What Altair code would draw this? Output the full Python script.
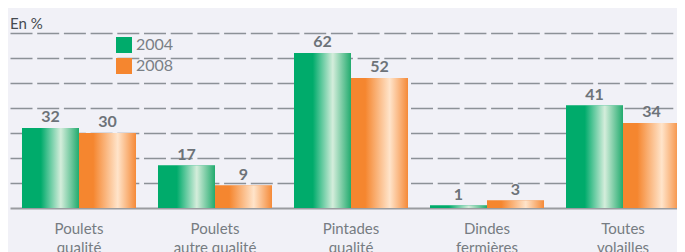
import altair as alt
import pandas as pd

categories = ["Poulets qualité", "Poulets autre qualité", "Pintades qualité",
              "Dindes fermières", "Toutes volailles"]
years = ["2004", "2008"]
values_2004 = [32, 17, 62, 1, 41]
values_2008 = [30, 9, 52, 3, 34]

rows = []
for c, a, b in zip(categories, values_2004, values_2008):
    rows.append({"cat": c, "year": "2004", "value": a})
    rows.append({"cat": c, "year": "2008", "value": b})
df = pd.DataFrame(rows)

GREEN = "#00ab6b"
ORANGE = "#f5862f"
grad_green = alt.Gradient(
    gradient="linear", x1=0, x2=1, y1=0, y2=0,
    stops=[alt.GradientStop(color=GREEN, offset=0),
           alt.GradientStop(color=GREEN, offset=0.33),
           alt.GradientStop(color="#d4eddb", offset=0.68),
           alt.GradientStop(color="#22ab6e", offset=1)])
grad_orange = alt.Gradient(
    gradient="linear", x1=0, x2=1, y1=0, y2=0,
    stops=[alt.GradientStop(color=ORANGE, offset=0),
           alt.GradientStop(color=ORANGE, offset=0.25),
           alt.GradientStop(color="#ffe4ca", offset=0.68),
           alt.GradientStop(color="#f58a38", offset=1)])

x_enc = alt.X("cat:N", sort=categories,
              scale=alt.Scale(range=[0, 682], paddingInner=0.1618, paddingOuter=0.0882),
              axis=alt.Axis(title=None, labelAngle=0, ticks=False,
                            domain=True, domainColor="#9a9ca0", domainWidth=2,
                            labelFont="Lato", labelFontSize=15, labelColor="#767c82",
                            labelPadding=13, labelLineHeight=19, labelBaseline="top",
                            labelExpr="[slice(datum.label, 0, indexof(datum.label, ' ')), slice(datum.label, indexof(datum.label, ' ') + 1)]"))
xo_enc = alt.XOffset("year:N", scale=alt.Scale(domain=years, paddingInner=0, paddingOuter=0))
y_enc = alt.Y("value:Q", scale=alt.Scale(domain=[0, 70], nice=False),
              axis=alt.Axis(title=None, values=[10, 20, 30, 40, 50, 60, 70],
                            labels=False, ticks=False, domain=False, grid=True,
                            gridDash=[22, 4.7], gridColor="#8c9197", gridWidth=1.5))

base = alt.Chart(df)

legend_bars = base.mark_bar().encode(
    x=x_enc, xOffset=xo_enc, y=y_enc,
    color=alt.Color("year:N", scale=alt.Scale(domain=years, range=[GREEN, ORANGE]),
                    legend=alt.Legend(title=None, orient="none", legendX=106, legendY=4,
                                      symbolType="square", symbolSize=256,
                                      symbolStrokeWidth=0, rowPadding=5, padding=0,
                                      labelFont="Lato", labelFontSize=16,
                                      labelColor="#7a8086", labelOffset=4)))

bars04 = base.transform_filter("datum.year == '2004'").mark_bar(fill=grad_green).encode(
    x=x_enc, xOffset=xo_enc, y=y_enc)
bars08 = base.transform_filter("datum.year == '2008'").mark_bar(fill=grad_orange).encode(
    x=x_enc, xOffset=xo_enc, y=y_enc)

labels = base.mark_text(font="Lato", fontWeight="bold", fontSize=16, color="#6d7379",
                        baseline="alphabetic", dy=-6).encode(
    x=x_enc, xOffset=xo_enc, y=y_enc, text="value:Q")

chart = alt.layer(legend_bars, bars04, bars08, labels).properties(
    width=667, height=175,
    padding={"left": 2, "top": 25, "right": 0, "bottom": 44},
    autosize=alt.AutoSizeParams(type="none"),
    title=alt.TitleParams("En %", anchor="start", frame="group", font="Lato",
                          fontSize=15, fontWeight="normal", color="#444a50",
                          baseline="alphabetic", offset=7, dy=18),
    background="#f1f1f7",
).configure_view(stroke=None)

chart.save("out.html", embed_options={"renderer": "svg", "actions": False})
